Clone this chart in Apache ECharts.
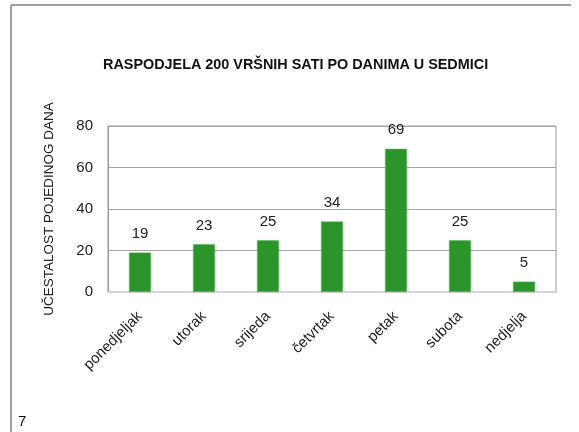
<!DOCTYPE html>
<html>
<head>
<meta charset="utf-8">
<script src="https://cdn.jsdelivr.net/npm/echarts@6/dist/echarts.min.js"></script>
<style>
  html, body { margin: 0; padding: 0; background: #fff; }
  #chart { width: 579px; height: 432px; }
</style>
</head>
<body>
<div id="chart"></div>
<script>
const days = ['ponedjeljak', 'utorak', 'srijeda', 'četvrtak', 'petak', 'subota', 'nedjelja']
const counts = [19, 23, 25, 34, 69, 25, 5]
const yTicks = [0, 20, 40, 60, 80]

const font = 'Liberation Sans, Arial, sans-serif'
const chart = echarts.init(document.getElementById('chart'))

chart.setOption({
  animation: false,
  title: {
    text: 'RASPODJELA 200 VRŠNIH SATI PO DANIMA U SEDMICI',
    left: 98,
    top: 53,
    textStyle: { fontFamily: font, fontSize: 14.4, fontWeight: 'bold', color: '#111' }
  },
  grid: {
    left: 108,
    right: 23,
    top: 126,
    bottom: 140,
    show: true,
    borderColor: '#9a9a9a',
    borderWidth: 1
  },
  xAxis: {
    type: 'category',
    data: days,
    axisTick: { show: false },
    axisLine: { lineStyle: { color: '#d4d4d4', width: 2 } },
    axisLabel: {
      rotate: 45,
      interval: 0,
      margin: 22,
      fontFamily: font,
      fontSize: 15,
      color: '#222'
    }
  },
  yAxis: {
    type: 'value',
    min: yTicks[0],
    max: yTicks[yTicks.length - 1],
    interval: 20,
    name: 'UČESTALOST POJEDINOG DANA',
    nameLocation: 'middle',
    nameGap: 52,
    nameTextStyle: { fontFamily: font, fontSize: 13.5, color: '#222' },
    axisLine: { show: true, lineStyle: { color: '#9a9a9a' } },
    axisTick: { show: false },
    splitLine: { lineStyle: { color: '#a6a6a6' } },
    axisLabel: { fontFamily: font, fontSize: 15, color: '#222', margin: 15 }
  },
  series: [{
    type: 'bar',
    data: counts,
    barWidth: 22,
    itemStyle: { color: '#2a962a', borderColor: '#5cb85c', borderWidth: 0.5 },
    label: {
      show: true,
      position: 'top',
      distance: 11,
      fontFamily: font,
      fontSize: 15,
      color: '#222'
    }
  }],
  graphic: [
    { type: 'line', shape: { x1: 11, y1: 5, x2: 571, y2: 5 }, style: { stroke: '#a0a0a0', lineWidth: 2 } },
    { type: 'line', shape: { x1: 11, y1: 5, x2: 11, y2: 432 }, style: { stroke: '#a0a0a0', lineWidth: 2 } },
    { type: 'text', left: 18, top: 414, style: { text: '7', font: '15px ' + font, fill: '#111' } }
  ]
})
</script>
</body>
</html>
